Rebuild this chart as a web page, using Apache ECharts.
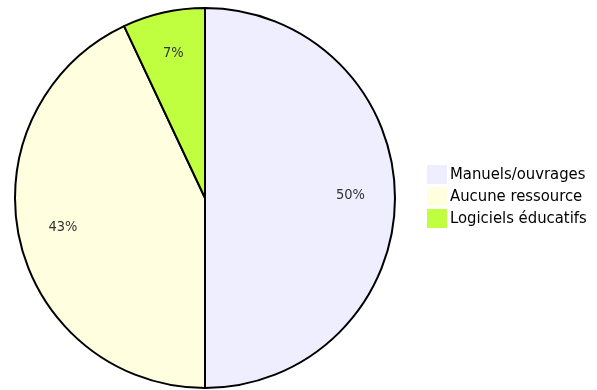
<!DOCTYPE html>
<html>
<head>
<meta charset="utf-8">
<script src="https://cdn.jsdelivr.net/npm/echarts@6/dist/echarts.min.js"></script>
<style>
  html, body { margin: 0; padding: 0; background: #ffffff; }
  #chart { width: 597px; height: 390px; }
</style>
</head>
<body>
<div id="chart"></div>
<script>
// Ressources utilisées (en %)
var categories = ['Manuels/ouvrages', 'Aucune ressource', 'Logiciels éducatifs'];
var values = [50, 43, 7];
var colors = ['#eeeeff', '#ffffe0', '#c0ff40'];

var FONT = '"DejaVu Sans Condensed", "DejaVu Sans", sans-serif';

var pieData = categories.map(function (name, i) {
  return { name: name, value: values[i], itemStyle: { color: colors[i] } };
});

var chart = echarts.init(document.getElementById('chart'));
chart.setOption({
  animation: false,
  color: colors,
  legend: {
    orient: 'vertical',
    left: 427,
    top: 165,
    padding: 0,
    icon: 'rect',
    itemWidth: 20,
    itemHeight: 19,
    itemGap: 3,
    data: categories,
    itemStyle: { borderWidth: 0 },
    textStyle: { fontFamily: FONT, fontSize: 16.5, color: '#000000', padding: [0, 0, 0, -2] }
  },
  series: [
    {
      // the slices with their black outline
      type: 'pie',
      center: [205, 198],
      radius: [0, 190],
      startAngle: 90,
      clockwise: true,
      silent: true,
      label: { show: false },
      labelLine: { show: false },
      itemStyle: { borderColor: '#000000', borderWidth: 2 },
      data: pieData
    },
    {
      // percentage labels, placed three quarters of the way out
      type: 'pie',
      center: [205, 198],
      radius: [95, 190],
      startAngle: 90,
      clockwise: true,
      silent: true,
      legendHoverLink: false,
      itemStyle: { color: 'rgba(0,0,0,0)', borderWidth: 0 },
      label: {
        show: true,
        position: 'inside',
        formatter: '{c}%',
        fontFamily: FONT,
        fontSize: 14.5,
        color: '#333333',
        offset: [0, -3]
      },
      labelLine: { show: false },
      data: categories.map(function (name, i) {
        return { name: name, value: values[i] };
      })
    }
  ]
});
</script>
</body>
</html>
